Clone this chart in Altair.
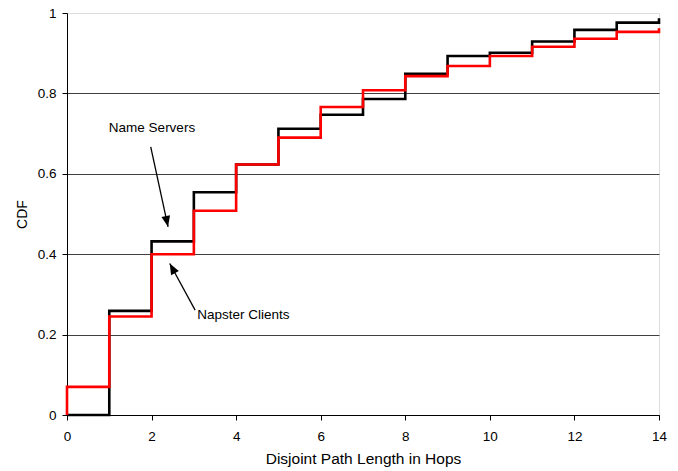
import altair as alt
import pandas as pd

# Cumulative fraction of paths by disjoint path length (hops)
hops = list(range(15))
name_servers = [0.000, 0.259, 0.432, 0.554, 0.623, 0.712, 0.747, 0.786,
                0.849, 0.893, 0.901, 0.929, 0.958, 0.976, 0.987]
napster_clients = [0.070, 0.245, 0.400, 0.508, 0.623, 0.690, 0.766, 0.808,
                   0.843, 0.868, 0.893, 0.916, 0.936, 0.953, 0.962]
series_names = ["Name Servers", "Napster Clients"]
series_colors = ["#000000", "#ff0000"]

# Callout labels and their arrows (data coordinates)
label_text = ["Name Servers", "Napster Clients"]
label_x = [2.01, 4.17]
label_y = [0.714, 0.249]
arrow_x0 = [1.98, 3.03]
arrow_y0 = [0.667, 0.261]
arrow_x1 = [2.39, 2.43]
arrow_y1 = [0.468, 0.377]
arrow_angle = [167.8, 331.8]

FONT = "Liberation Sans"

rows = []
for name, vals in zip(series_names, [name_servers, napster_clients]):
    rows.append({"series": name, "hops": 0, "cdf": 0.0, "seq": 0})
    for i, (h, v) in enumerate(zip(hops, vals), start=1):
        rows.append({"series": name, "hops": h, "cdf": v, "seq": i})
df = pd.DataFrame(rows)

notes = pd.DataFrame({
    "text": label_text, "lx": label_x, "ly": label_y,
    "x0": arrow_x0, "y0": arrow_y0, "x1": arrow_x1, "y1": arrow_y1,
    "angle": arrow_angle,
})

x_scale = alt.Scale(domain=[0, 14], nice=False, zero=False)
y_scale = alt.Scale(domain=[0, 1], nice=False)

x_axis = alt.Axis(
    title="Disjoint Path Length in Hops", values=list(range(0, 15, 2)),
    grid=False, domainColor="#000000", tickColor="#000000", tickSize=5,
    labelFontSize=13.5, labelColor="#000000", labelPadding=9, labelFont=FONT,
    labelFlush=False, labelOverlap=False,
    titleFontSize=15.5, titleFontWeight="normal", titleColor="#000000", titleFont=FONT,
    titleX=296, titleY=48, titleBaseline="alphabetic", titleAlign="center",
)
y_axis = alt.Axis(
    title="CDF", values=[0, 0.2, 0.4, 0.6, 0.8, 1.0], format="~g",
    grid=True, gridColor="#404040", gridWidth=1,
    gridOpacity={"condition": {"test": "datum.value >= 1", "value": 0}, "value": 1},
    domainColor="#000000", tickColor="#000000", tickSize=5,
    labelFontSize=13.5, labelColor="#000000", labelPadding=6, labelFont=FONT,
    labelFlush=False, labelOverlap=False,
    titleFontSize=14, titleFontWeight="normal", titleColor="#000000", titleFont=FONT,
    titleX=-45, titleY=201, titleAngle=270, titleBaseline="middle", titleAlign="center",
)

base = alt.Chart(df)
lines = []
for name, color in zip(series_names, series_colors):
    lines.append(
        base.transform_filter(alt.datum.series == name)
        .mark_line(interpolate="step-after", color=color, strokeWidth=2.6)
        .encode(
            x=alt.X("hops:Q", scale=x_scale, axis=x_axis),
            y=alt.Y("cdf:Q", scale=y_scale, axis=y_axis),
            order="seq:Q",
        )
    )

note_base = alt.Chart(notes)
arrows = note_base.mark_rule(color="#000000", strokeWidth=1.3).encode(
    x="x0:Q", y="y0:Q", x2="x1:Q", y2="y1:Q"
)
heads = note_base.mark_point(
    shape="M0,0L-0.4,1L0.4,1Z", filled=True, color="#000000", opacity=1, size=484
).encode(x="x1:Q", y="y1:Q", angle=alt.Angle("angle:Q", scale=None))
texts = note_base.mark_text(
    font=FONT, fontSize=13.5, color="#000000", align="center", baseline="middle"
).encode(x="lx:Q", y="ly:Q", text="text:N")

chart = alt.layer(*lines, arrows, heads, texts).properties(
    width=592, height=402,
    autosize=alt.AutoSizeParams(type="none"),
    padding={"left": 67, "top": 13, "right": 19, "bottom": 56},
).configure_view(stroke="#9a9a9a", strokeWidth=1).configure(background="#ffffff")

chart.save("out.html", embed_options={"renderer": "svg", "actions": False})
